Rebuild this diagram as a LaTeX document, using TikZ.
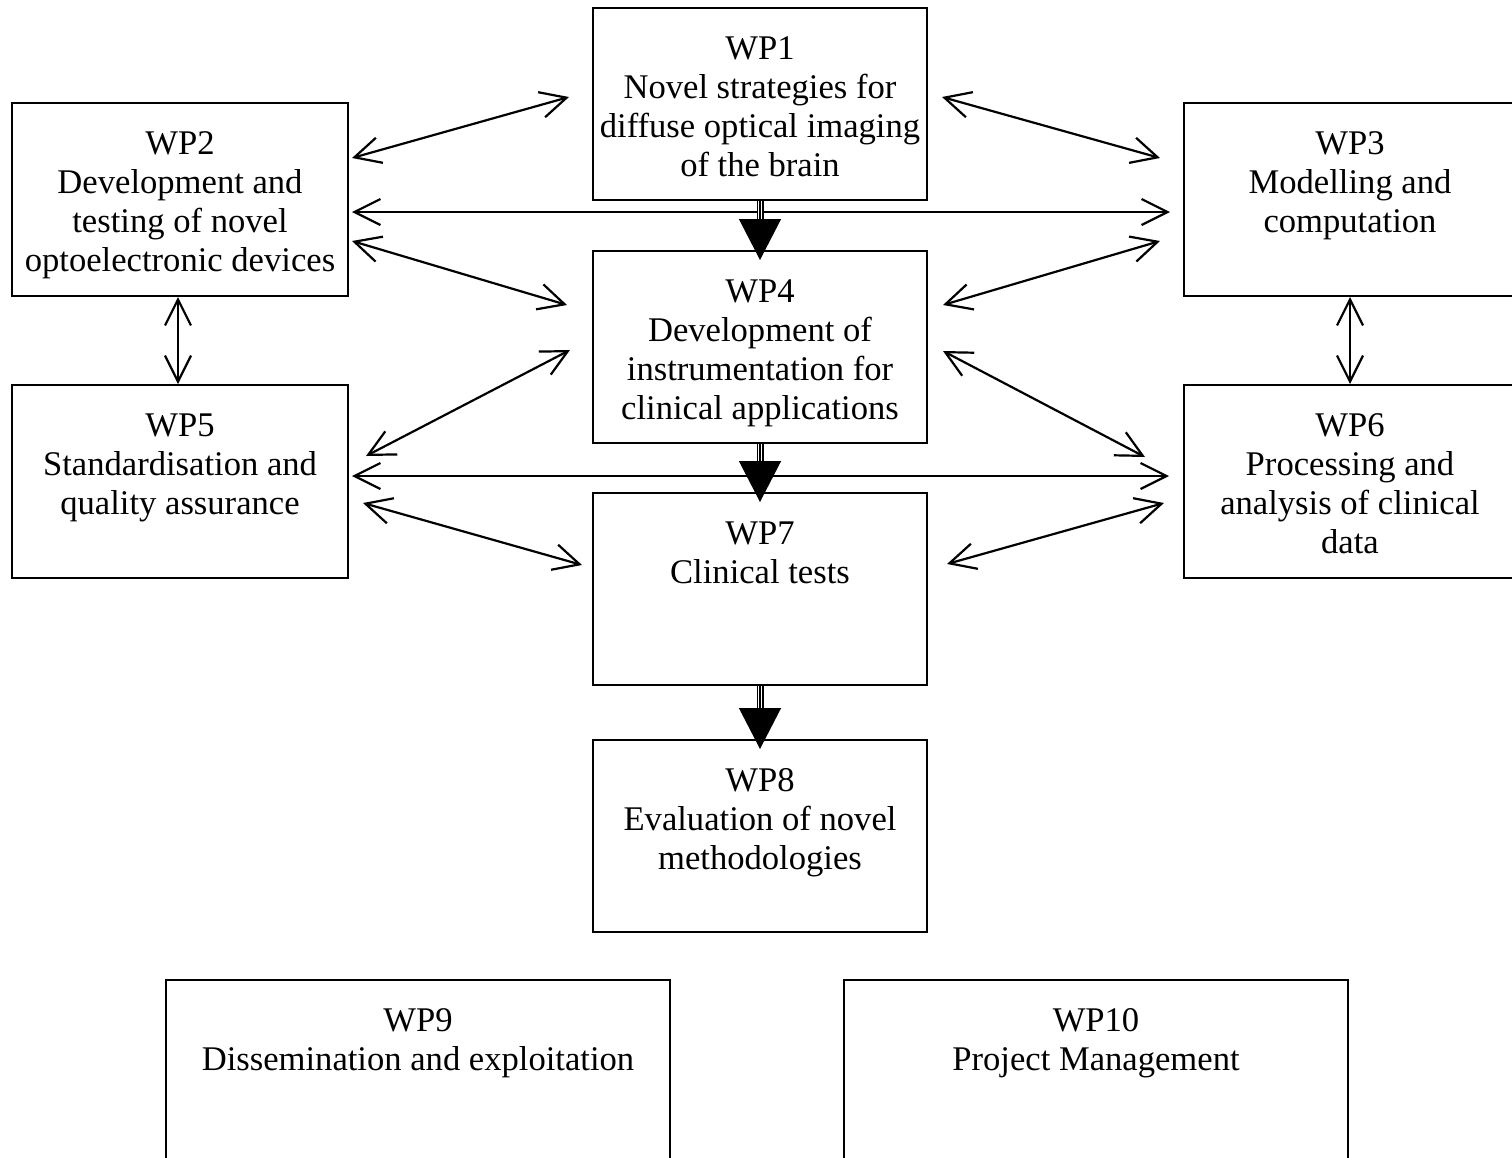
\documentclass[tikz,border=0pt]{standalone}
\usepackage{fontspec}
\setmainfont{Liberation Serif}
\usetikzlibrary{arrows.meta,positioning}
\tikzset{
  wpbox/.style={draw, line width=1pt, anchor=north west, inner sep=0pt},
  midbox/.style={wpbox, minimum width=167pt, minimum height=96pt},
  sidebox/.style={wpbox, minimum width=168pt, minimum height=96.5pt},
  edgebox/.style={wpbox, minimum width=180pt, minimum height=96.5pt},
  basebox/.style={wpbox, minimum width=252pt, minimum height=100pt},
  wptext/.style={anchor=north, align=center, inner sep=0pt,
    font=\fontsize{17.3}{19.5}\selectfont, yshift=-14.5pt},
  link/.style={line width=1.1pt,
    {Straight Barb[length=13pt,width=13pt]}-{Straight Barb[length=13pt,width=13pt]}},
  flowline/.style={double, double distance=2pt, line width=.75pt, shorten >=19pt},
  flowhead/.style={line width=.6pt, -{Triangle[length=20.5pt,width=21pt]}}
}
\begin{document}
\begin{tikzpicture}[x=0.5pt, y=-0.5pt]
  \useasboundingbox (0,0) rectangle (1512,1158);

  % work packages
  \node[midbox]  (wp1)  at (592,7) {};
  \node[sidebox] (wp2)  at (11,102) {};
  \node[edgebox] (wp3)  at (1183,102) {};
  \node[midbox]  (wp4)  at (592,250) {};
  \node[sidebox] (wp5)  at (11,384) {};
  \node[edgebox] (wp6)  at (1183,384) {};
  \node[midbox]  (wp7)  at (592,492) {};
  \node[midbox]  (wp8)  at (592,739) {};
  \node[basebox] (wp9)  at (165,979) {};
  \node[basebox] (wp10) at (843,979) {};

  \node[wptext] (t1) at (wp1.north) {WP1\\Novel strategies for\\diffuse optical imaging\\of the brain};
  \node[wptext] (t2) at (wp2.north) {WP2\\Development and\\testing of novel\\optoelectronic devices};
  \node[wptext] (t3) at ([xshift=-7pt]wp3.north) {WP3\\Modelling and\\computation};
  \node[wptext] (t4) at (wp4.north) {WP4\\Development of\\instrumentation for\\clinical applications};
  \node[wptext] (t5) at (wp5.north) {WP5\\Standardisation and\\quality assurance};
  \node[wptext] (t6) at ([xshift=-7pt]wp6.north) {WP6\\Processing and\\analysis of clinical\\data};
  \node[wptext] (t7) at (wp7.north) {WP7\\Clinical tests};
  \node[wptext] (t8) at (wp8.north) {WP8\\Evaluation of novel\\methodologies};
  \node[wptext] (t9) at (wp9.north) {WP9\\Dissemination and exploitation};
  \node[wptext] (t10) at (wp10.north) {WP10\\Project Management};

  % link ends
  \coordinate (l1a) at (352,158);  \coordinate (l1b) at (569,97);
  \coordinate (l2a) at (942,97);   \coordinate (l2b) at (1160,158);
  \coordinate (l3a) at (352,212);  \coordinate (l3b) at (1170,212);
  \coordinate (l4a) at (352,241);  \coordinate (l4b) at (567,305);
  \coordinate (l5a) at (943,305);  \coordinate (l5b) at (1160,241);
  \coordinate (l8a) at (570,350);  \coordinate (l8b) at (366,456);
  \coordinate (l9a) at (943,351);  \coordinate (l9b) at (1145,457);
  \coordinate (l10a) at (352,476); \coordinate (l10b) at (1169,476);
  \coordinate (l11a) at (363,503); \coordinate (l11b) at (582,565);
  \coordinate (l12a) at (947,564); \coordinate (l12b) at (1164,503);

  \draw[link] (l1a) -- (l1b);
  \draw[link] (l2a) -- (l2b);
  \draw[link] (l3a) -- (l3b);
  \draw[link] (l4a) -- (l4b);
  \draw[link] (l5a) -- (l5b);
  \draw[link] (wp2.south -| 178,0) -- (wp5.north -| 178,0);
  \draw[link] (wp3.south -| 1350,0) -- (wp6.north -| 1350,0);
  \draw[link] (l8a) -- (l8b);
  \draw[link] (l9a) -- (l9b);
  \draw[link] (l10a) -- (l10b);
  \draw[link] (l11a) -- (l11b);
  \draw[link] (l12a) -- (l12b);

  % main flow
  \draw[flowline] (wp1.south) -- ([yshift=-5pt]wp4.north);
  \draw[flowhead] (wp1.south) -- ([yshift=-5pt]wp4.north);
  \draw[flowline] (wp4.south) -- ([yshift=-5pt]wp7.north);
  \draw[flowhead] (wp4.south) -- ([yshift=-5pt]wp7.north);
  \draw[flowline] (wp7.south) -- ([yshift=-5pt]wp8.north);
  \draw[flowhead] (wp7.south) -- ([yshift=-5pt]wp8.north);
\end{tikzpicture}
\end{document}
